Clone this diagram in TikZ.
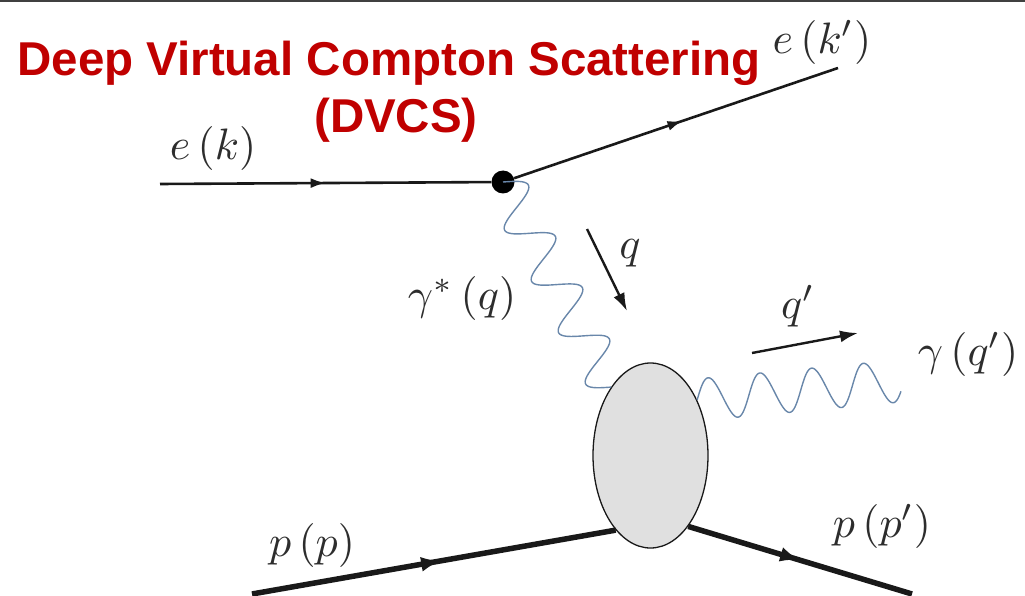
\documentclass[tikz,border=0pt]{standalone}
\usepackage{fontspec}
\setsansfont{Liberation Sans}
\usetikzlibrary{calc,decorations.markings,shapes.geometric,arrows.meta}
\definecolor{dvcsred}{RGB}{192,0,0}
\definecolor{photoncol}{RGB}{105,135,170}
\definecolor{labcol}{RGB}{45,45,45}
\definecolor{linecol}{RGB}{25,25,25}
\begin{document}
\begin{tikzpicture}[x=1pt,y=-1pt,
  lbl/.style={text=labcol,font=\fontsize{10}{12}\selectfont,inner sep=0pt,scale=4.4},
  title/.style={text=dvcsred,font=\sffamily\bfseries\fontsize{47.5}{52}\selectfont,inner sep=0pt,anchor=base},
  electron/.style={draw=linecol,line width=2.6pt},
  proton/.style={draw=linecol,line width=5.5pt},
  photon/.style={draw=photoncol,line width=1.4pt},
  midarrow/.style={postaction={decorate,decoration={markings,mark=at position #1 with {\arrow{Latex[length=15pt,width=10pt]}}}}},
  midarrowbig/.style={postaction={decorate,decoration={markings,mark=at position #1 with {\arrow{Latex[length=20pt,width=15pt]}}}}},
  momentum/.style={draw=linecol,line width=2.4pt,-{Latex[length=18pt,width=12pt]}}]
\path[use as bounding box] (0,0) rectangle (1025,596);
\fill[black!75] (0,0) rectangle (1025,2.5);

% title
\node[title] (t1) at (389,76) {Deep Virtual Compton Scattering};
\node[title] (t2) at (396,133) {(DVCS)};

% vertices
\node[circle,fill=black,inner sep=0pt,minimum size=23pt] (v) at (503,182) {};
\node[ellipse,draw=linecol,line width=1.3pt,fill=black!12,inner sep=0pt,minimum width=115pt,minimum height=185pt] (blob) at (650.5,455.5) {};

% end points
\coordinate (ein) at (160,184);
\coordinate (eout) at (838,68);
\coordinate (pin) at (252,594);
\coordinate (pout) at (912,594);
\coordinate (gout) at (900,381);

% lines
\draw[electron,midarrow=0.5] (ein) -- (v);
\draw[electron,midarrow=0.52] (v) -- (eout);
\draw[proton,midarrowbig=0.52] (pin) -- (blob.245);
\draw[proton,midarrowbig=0.5] (blob.298) -- (pout);

% photons (sine waves between named points)
\draw[photon] let \p1=(v.center), \p2=(blob.120),
  \n1={atan2(\y2-\y1,\x2-\x1)}, \n2={veclen(\x2-\x1,\y2-\y1)} in
  [shift={(\p1)},rotate=\n1]
  plot[variable=\t,domain=0:\n2,samples=220,smooth] (\t,{21*sin(\t/(\n2/4)*360)});
\draw[photon] let \p1=(blob.50), \p2=(gout),
  \n1={atan2(\y2-\y1,\x2-\x1)}, \n2={veclen(\x2-\x1,\y2-\y1)} in
  [shift={(\p1)},rotate=\n1]
  plot[variable=\t,domain=0:\n2,samples=220,smooth] (\t,{-21*sin(\t/52*360)});

% momentum arrows
\coordinate (qa) at (587,229);
\coordinate (qb) at (627,311);
\draw[momentum] (qa) -- (qb);
\coordinate (qpa) at (752,353);
\coordinate (qpb) at (858,333);
\draw[momentum] (qpa) -- (qpb);

% labels
\node[lbl] (lek) at (213,149) {$e\,(k)$};
\node[lbl] (lekp) at (822,42) {$e\,(k')$};
\node[lbl] (lgs) at (462,298) {$\gamma^*\,(q)$};
\node[lbl] (lq) at (630,253) {$q$};
\node[lbl] (lqp) at (798,306) {$q'$};
\node[lbl] (lgq) at (968,354) {$\gamma\,(q')$};
\node[lbl] (lpp) at (312,545) {$p\,(p)$};
\node[lbl] (lppp) at (882,526) {$p\,(p')$};
\end{tikzpicture}
\end{document}
